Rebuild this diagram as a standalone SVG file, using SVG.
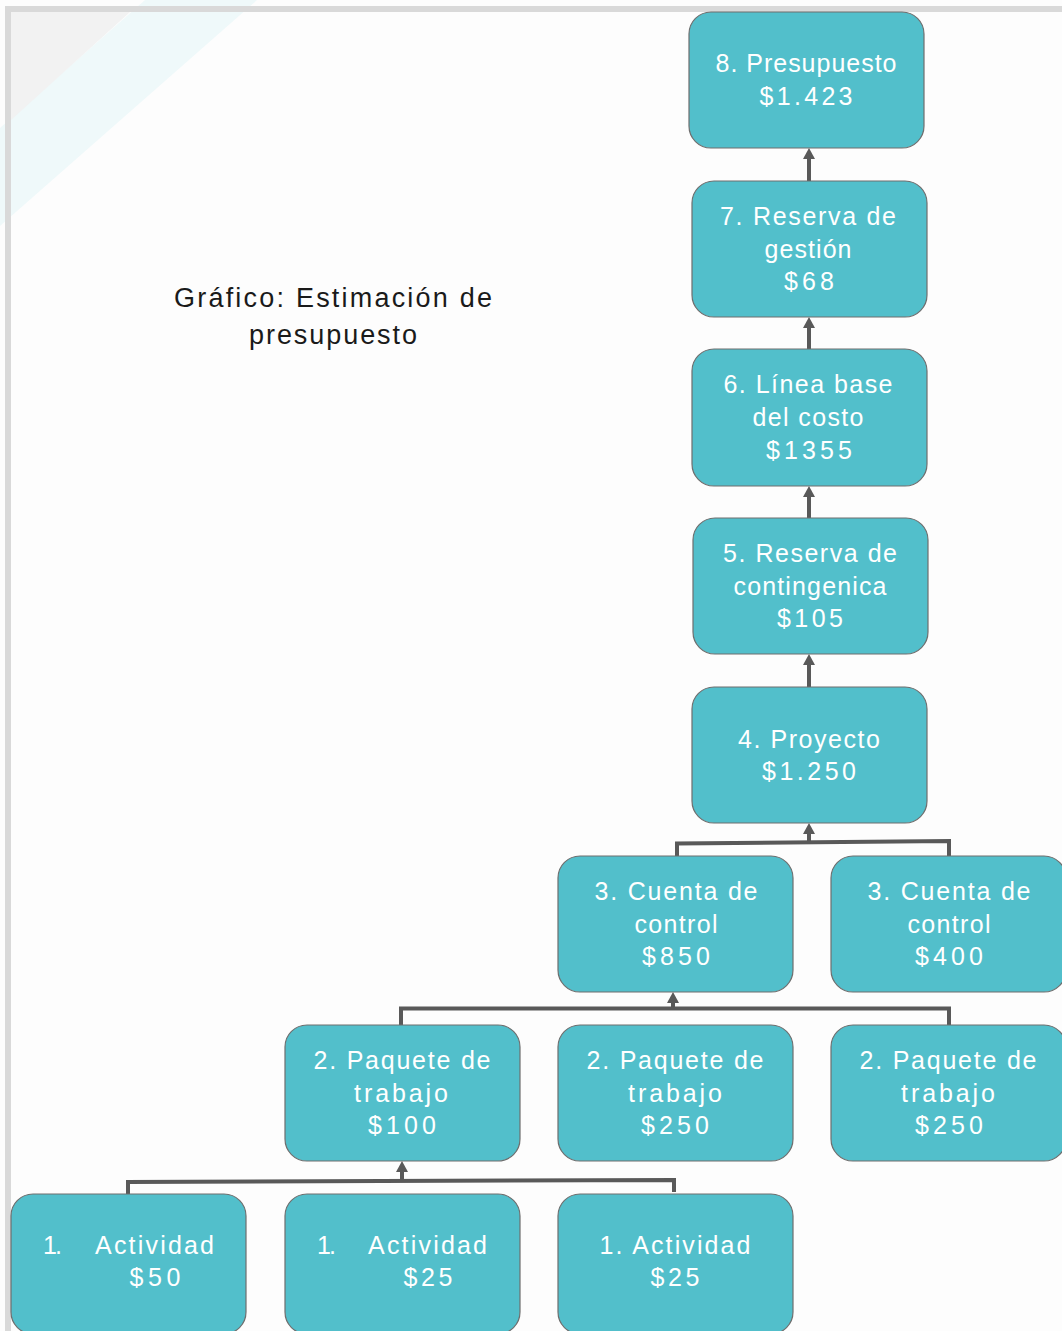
<svg xmlns="http://www.w3.org/2000/svg" width="1062" height="1331" viewBox="0 0 1062 1331">
  <style>
    .node rect { fill: #52bfcb; stroke: #6e6e6e; stroke-width: 1.2; }
    .node text { fill: #ffffff; font-family: "Liberation Sans", Arial, sans-serif; font-size: 25px; text-anchor: middle; }
    .node text.l { text-anchor: start; }
    .title { fill: #1a1a1a; font-family: "Liberation Sans", Arial, sans-serif; font-size: 27px; text-anchor: middle; }
    .conn { fill: none; stroke: #595959; stroke-width: 4; }
  </style>
  <defs>
    <marker id="arrow" viewBox="0 0 11 12" refX="0" refY="6" markerWidth="11" markerHeight="12" markerUnits="userSpaceOnUse" orient="auto">
      <path d="M0,0 L11,6 L0,12 Z" fill="#595959"/>
    </marker>
  </defs>

  <!-- page background and slide frame -->
  <rect x="0" y="0" width="1062" height="1331" fill="#fdfdfd"/>
  <polygon points="145,0 257,0 0,226 0,128" fill="#eff9fa"/>
  <polygon points="11,12 130,12 11,120" fill="#f2f2f2"/>
  <path d="M8,1331 V9 H1062" fill="none" stroke="#d9d9d9" stroke-width="6"/>

  <!-- title -->
  <g id="title">
    <text class="title" x="333" y="307" textLength="318">Gráfico: Estimación de</text>
    <text class="title" x="333" y="344" textLength="168">presupuesto</text>
  </g>

  <!-- connectors -->
  <g id="connectors">
    <path class="conn" d="M809,181 V159" marker-end="url(#arrow)"/>
    <path class="conn" d="M809,349 V328" marker-end="url(#arrow)"/>
    <path class="conn" d="M809,518 V497" marker-end="url(#arrow)"/>
    <path class="conn" d="M809,687 V665" marker-end="url(#arrow)"/>

    <path class="conn" d="M677,856 V843.5 L949,841 V856"/>
    <path class="conn" d="M809,842 V834" marker-end="url(#arrow)"/>

    <path class="conn" d="M401,1025 V1008.5 H949 V1025"/>
    <path class="conn" d="M673,1008 V1003" marker-end="url(#arrow)"/>

    <path class="conn" d="M128,1194 V1182 L674,1180 V1192"/>
    <path class="conn" d="M402,1181 V1172" marker-end="url(#arrow)"/>
  </g>

  <!-- level 8 -->
  <g id="presupuesto" class="node">
    <rect x="689" y="12" width="235" height="136" rx="22"/>
    <text x="806" y="72" textLength="181">8. Presupuesto</text>
    <text x="806" y="105" textLength="93">$1.423</text>
  </g>

  <!-- level 7 -->
  <g id="reserva-gestion" class="node">
    <rect x="692" y="181" width="235" height="136" rx="22"/>
    <text x="808" y="225" textLength="176">7. Reserva de</text>
    <text x="808" y="258" textLength="87">gestión</text>
    <text x="809" y="290" textLength="50">$68</text>
  </g>

  <!-- level 6 -->
  <g id="linea-base" class="node">
    <rect x="692" y="349" width="235" height="137" rx="22"/>
    <text x="808" y="393" textLength="169">6. Línea base</text>
    <text x="808" y="426" textLength="111">del costo</text>
    <text x="809" y="459" textLength="86">$1355</text>
  </g>

  <!-- level 5 -->
  <g id="reserva-contingencia" class="node">
    <rect x="693" y="518" width="235" height="136" rx="22"/>
    <text x="810" y="562" textLength="174">5. Reserva de</text>
    <text x="810" y="595" textLength="153">contingenica</text>
    <text x="810" y="627" textLength="66">$105</text>
  </g>

  <!-- level 4 -->
  <g id="proyecto" class="node">
    <rect x="692" y="687" width="235" height="136" rx="22"/>
    <text x="809" y="748" textLength="142">4. Proyecto</text>
    <text x="809" y="780" textLength="94">$1.250</text>
  </g>

  <!-- level 3 -->
  <g id="cuenta-850" class="node">
    <rect x="558" y="856" width="235" height="136" rx="22"/>
    <text x="676" y="900" textLength="163">3. Cuenta de</text>
    <text x="676" y="933" textLength="83">control</text>
    <text x="676" y="965" textLength="68">$850</text>
  </g>
  <g id="cuenta-400" class="node">
    <rect x="831" y="856" width="235" height="136" rx="22"/>
    <text x="949" y="900" textLength="163">3. Cuenta de</text>
    <text x="949" y="933" textLength="83">control</text>
    <text x="949" y="965" textLength="68">$400</text>
  </g>

  <!-- level 2 -->
  <g id="paquete-100" class="node">
    <rect x="285" y="1025" width="235" height="136" rx="22"/>
    <text x="402" y="1069" textLength="177">2. Paquete de</text>
    <text x="401" y="1102" textLength="94">trabajo</text>
    <text x="402" y="1134" textLength="68">$100</text>
  </g>
  <g id="paquete-250a" class="node">
    <rect x="558" y="1025" width="235" height="136" rx="22"/>
    <text x="675" y="1069" textLength="177">2. Paquete de</text>
    <text x="675" y="1102" textLength="94">trabajo</text>
    <text x="675" y="1134" textLength="68">$250</text>
  </g>
  <g id="paquete-250b" class="node">
    <rect x="831" y="1025" width="235" height="136" rx="22"/>
    <text x="948" y="1069" textLength="177">2. Paquete de</text>
    <text x="948" y="1102" textLength="94">trabajo</text>
    <text x="949" y="1134" textLength="68">$250</text>
  </g>

  <!-- level 1 -->
  <g id="actividad-50" class="node">
    <rect x="11" y="1194" width="235" height="140" rx="22"/>
    <text class="l" x="43" y="1254" textLength="19">1.</text>
    <text class="l" x="95" y="1254" textLength="119">Actividad</text>
    <text x="155" y="1286" textLength="51">$50</text>
  </g>
  <g id="actividad-25a" class="node">
    <rect x="285" y="1194" width="235" height="140" rx="22"/>
    <text class="l" x="317" y="1254" textLength="19">1.</text>
    <text class="l" x="368" y="1254" textLength="119">Actividad</text>
    <text x="428" y="1286" textLength="49">$25</text>
  </g>
  <g id="actividad-25b" class="node">
    <rect x="558" y="1194" width="235" height="140" rx="22"/>
    <text x="675" y="1254" textLength="151">1. Actividad</text>
    <text x="675" y="1286" textLength="49">$25</text>
  </g>
</svg>
